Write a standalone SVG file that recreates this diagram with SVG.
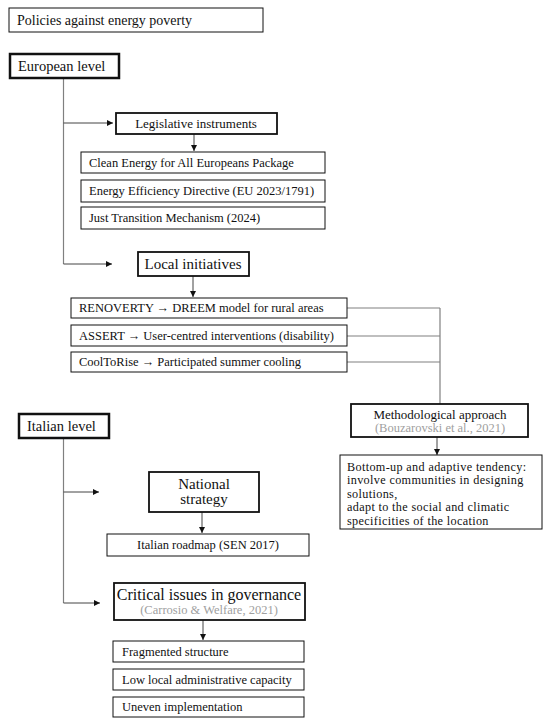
<svg xmlns="http://www.w3.org/2000/svg" width="550" height="723" viewBox="0 0 550 723">
<defs>
<marker id="ah" viewBox="0 0 10 10" refX="10" refY="5" markerWidth="6" markerHeight="6" markerUnits="userSpaceOnUse" orient="auto">
<path d="M0,0 L10,5 L0,10 z" fill="#111"/>
</marker>
<style>
text{font-family:"Liberation Serif","DejaVu Serif",serif;fill:#111}
.b{fill:#fff;stroke:#111;stroke-width:1}
.bt{fill:#fff;stroke:#111;stroke-width:2.5}
.bm{fill:#fff;stroke:#111;stroke-width:1.8}
.s{font-size:12.5px}
.m{font-size:13px}
.p{font-size:12.2px;letter-spacing:0.35px}
.l{font-size:14.5px}
.c{text-anchor:middle}
.g{fill:#a0a0a0}
.ln{fill:none;stroke:#808080;stroke-width:1.2}
.ar{fill:none;stroke:#444;stroke-width:1}
</style>
</defs>
<g id="connectors">
<path class="ln" d="M63.5,78 V264"/>
<path class="ar" d="M63.5,123 H113" marker-end="url(#ah)"/>
<path class="ar" d="M63.5,264 H112" marker-end="url(#ah)"/>
<path class="ar" d="M194,134 V151" marker-end="url(#ah)"/>
<path class="ar" d="M193,276 V297" marker-end="url(#ah)"/>
<path class="ln" d="M347,308 H440 M347,336 H440 M347,362 H440 M440,308 V404"/>
<path class="ar" d="M437,437 V455" marker-end="url(#ah)"/>
<path class="ln" d="M63.5,438 V603"/>
<path class="ar" d="M63.5,492 H99" marker-end="url(#ah)"/>
<path class="ar" d="M63.5,603 H100" marker-end="url(#ah)"/>
<path class="ar" d="M202,512 V533" marker-end="url(#ah)"/>
<path class="ar" d="M203,620 V640" marker-end="url(#ah)"/>
</g>
<g id="title"><rect class="b" x="9" y="8" width="254" height="24"/><text x="17" y="25" font-size="14">Policies against energy poverty</text></g>
<g id="european"><rect class="bt" x="10" y="54" width="109" height="24"/><text class="l" x="18" y="71">European level</text></g>
<g id="legislative"><rect class="bm" x="116" y="113" width="161" height="21"/><text class="m c" x="196" y="128">Legislative instruments</text></g>
<g id="clean"><rect class="b" x="81" y="152" width="244" height="21"/><text class="s" x="89" y="167">Clean Energy for All Europeans Package</text></g>
<g id="eed"><rect class="b" x="81" y="180" width="244" height="22"/><text class="s" x="89" y="195">Energy Efficiency Directive (EU 2023/1791)</text></g>
<g id="jtm"><rect class="b" x="81" y="207" width="244" height="22"/><text class="s" x="89" y="222">Just Transition Mechanism (2024)</text></g>
<g id="local"><rect class="bm" x="138" y="252" width="111" height="24"/><text class="c" x="193" y="269" font-size="15">Local initiatives</text></g>
<g id="renoverty"><rect class="b" x="71" y="298" width="276" height="20"/><text class="s" x="79" y="312">RENOVERTY → DREEM model for rural areas</text></g>
<g id="assert"><rect class="b" x="71" y="325" width="276" height="21"/><text class="s" x="79" y="340">ASSERT → User-centred interventions (disability)</text></g>
<g id="cooltorise"><rect class="b" x="71" y="352" width="276" height="20"/><text class="s" x="79" y="366">CoolToRise → Participated summer cooling</text></g>
<g id="method"><rect class="bm" x="351" y="404" width="177" height="33"/><text class="m c" x="440" y="419">Methodological approach</text><text class="s c g" x="440" y="432">(Bouzarovski et al., 2021)</text></g>
<g id="bottomup"><rect class="b" x="340" y="455" width="202" height="74" stroke-width="1.3"/>
<text class="p" x="347" y="470.5">Bottom-up and adaptive tendency:</text>
<text class="p" x="347" y="484.1">involve communities in designing</text>
<text class="p" x="347" y="497.7">solutions,</text>
<text class="p" x="347" y="511.3">adapt to the social and climatic</text>
<text class="p" x="347" y="524.9">specificities of the location</text></g>
<g id="italian"><rect class="bt" x="19" y="414" width="90" height="24"/><text class="l" x="27" y="431">Italian level</text></g>
<g id="national"><rect class="bm" x="149" y="472" width="110" height="40"/><text class="c" x="204" y="489" font-size="15">National</text><text class="c" x="204" y="504" font-size="15">strategy</text></g>
<g id="roadmap"><rect class="b" x="107" y="534" width="202" height="22"/><text class="s c" x="208" y="549">Italian roadmap (SEN 2017)</text></g>
<g id="critical"><rect class="bm" x="114" y="583" width="191" height="37"/><text class="c" x="209" y="600" font-size="16">Critical issues in governance</text><text class="s c g" x="209" y="614">(Carrosio &amp; Welfare, 2021)</text></g>
<g id="fragmented"><rect class="b" x="113" y="641" width="191" height="21"/><text class="s" x="122" y="656">Fragmented structure</text></g>
<g id="lowlocal"><rect class="b" x="113" y="669" width="191" height="21"/><text class="s" x="122" y="684">Low local administrative capacity</text></g>
<g id="uneven"><rect class="b" x="113" y="697" width="191" height="20"/><text class="s" x="122" y="711">Uneven implementation</text></g>
</svg>
